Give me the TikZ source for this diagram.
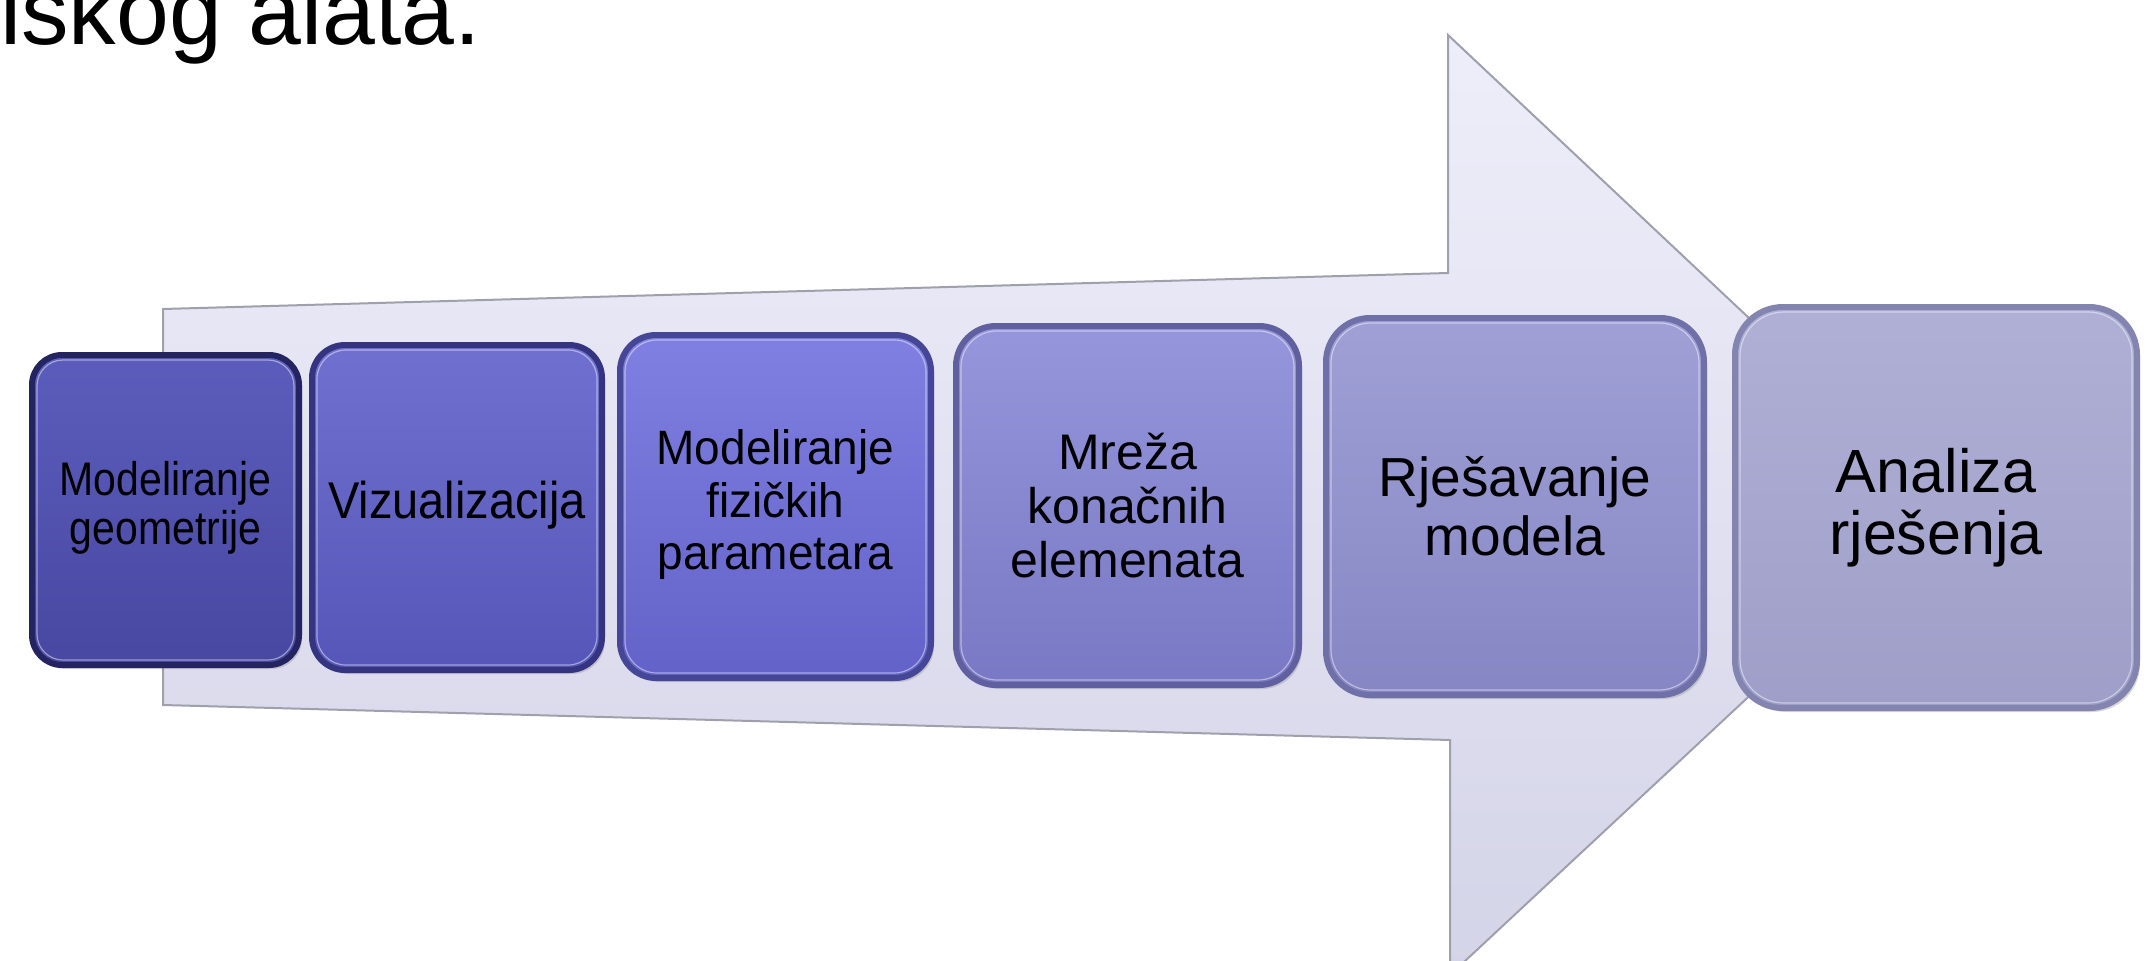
\documentclass[tikz,border=0pt]{standalone}
\usepackage{fontspec}
\setmainfont{Liberation Sans}
\usetikzlibrary{shadows}
\definecolor{arrtop}{RGB}{238,238,250}
\definecolor{arrbot}{RGB}{212,212,232}
\definecolor{arredge}{RGB}{160,160,172}
\definecolor{fa1}{RGB}{92,92,188}\definecolor{fb1}{RGB}{72,72,162}\definecolor{r1}{RGB}{36,36,96}
\definecolor{fa2}{RGB}{112,112,208}\definecolor{fb2}{RGB}{86,86,184}\definecolor{r2}{RGB}{52,52,128}
\definecolor{fa3}{RGB}{128,128,226}\definecolor{fb3}{RGB}{98,98,200}\definecolor{r3}{RGB}{70,70,150}
\definecolor{fa4}{RGB}{150,150,220}\definecolor{fb4}{RGB}{120,120,196}\definecolor{r4}{RGB}{96,96,160}
\definecolor{fa5}{RGB}{160,160,214}\definecolor{fb5}{RGB}{134,134,196}\definecolor{r5}{RGB}{112,112,168}
\definecolor{fa6}{RGB}{176,176,214}\definecolor{fb6}{RGB}{158,158,200}\definecolor{r6}{RGB}{132,132,176}
\newcommand{\tallstack}[2]{\scalebox{1}[#1]{\begin{tabular}{@{}c@{}}#2\end{tabular}}}
\begin{document}
\begin{tikzpicture}[x=1pt,y=-1pt,
  stepbox/.style={line width=6pt, align=center, inner sep=0pt, outer sep=0pt, text=black,
    drop shadow={opacity=0.3, shadow xshift=3pt, shadow yshift=-4pt}},
  hilite/.style={draw=white, opacity=0.45, line width=1.2pt}]
\useasboundingbox (0,0) rectangle (2145,961);
\fill[white] (0,0) rectangle (2145,961);

% title fragment
\node[anchor=base east, inner sep=0pt, font=\fontsize{95}{110}\selectfont] (title) at (481,44) {iskog alata.};

% big arrow
\path[top color=arrtop, bottom color=arrbot, draw=arredge, line width=2pt, line join=miter]
  (163,309) -- (1448,273) -- (1448,35) -- (1951,508) -- (1450,975) -- (1450,740) -- (163,705) -- cycle;

% boxes
\node[stepbox, draw=r1, top color=fa1, bottom color=fb1, rounded corners=30pt,
  minimum width=267pt, minimum height=310pt, font=\fontsize{41}{41}\selectfont] (b1) at (165.5,510) {\tallstack{1.15}{Modeliranje\\geometrije}};
\node[stepbox, draw=r2, top color=fa2, bottom color=fb2, rounded corners=33pt,
  minimum width=290pt, minimum height=325pt, font=\fontsize{47}{50}\selectfont] (b2) at (457,507.5) {\tallstack{1.1}{Vizualizacija}};
\node[stepbox, draw=r3, top color=fa3, bottom color=fb3, rounded corners=36pt,
  minimum width=311pt, minimum height=343pt, font=\fontsize{46}{50}\selectfont] (b3) at (775.5,506.5) {\tallstack{1.05}{Modeliranje\\fizičkih\\parametara}};
\node[stepbox, draw=r4, top color=fa4, bottom color=fb4, rounded corners=40pt,
  minimum width=343pt, minimum height=359pt, font=\fontsize{50}{54}\selectfont] (b4) at (1127.5,505.5) {Mreža\\konačnih\\elemenata};
\node[stepbox, draw=r5, top color=fa5, bottom color=fb5, rounded corners=44pt,
  minimum width=378pt, minimum height=377pt, font=\fontsize{55}{59}\selectfont] (b5) at (1515,506.5) {Rješavanje\\modela};
\node[stepbox, draw=r6, top color=fa6, bottom color=fb6, rounded corners=48pt,
  minimum width=402pt, minimum height=401pt, font=\fontsize{61}{62}\selectfont] (b6) at (1936,507.5) {Analiza\\rješenja};

% inner bevel highlights
\foreach \b/\r in {b1/26,b2/29,b3/32,b4/36,b5/40,b6/44}{
  \draw[hilite, rounded corners=\r pt] ([shift={(5,5)}]\b.north west) rectangle ([shift={(-5,-5)}]\b.south east);
}
\end{tikzpicture}
\end{document}
